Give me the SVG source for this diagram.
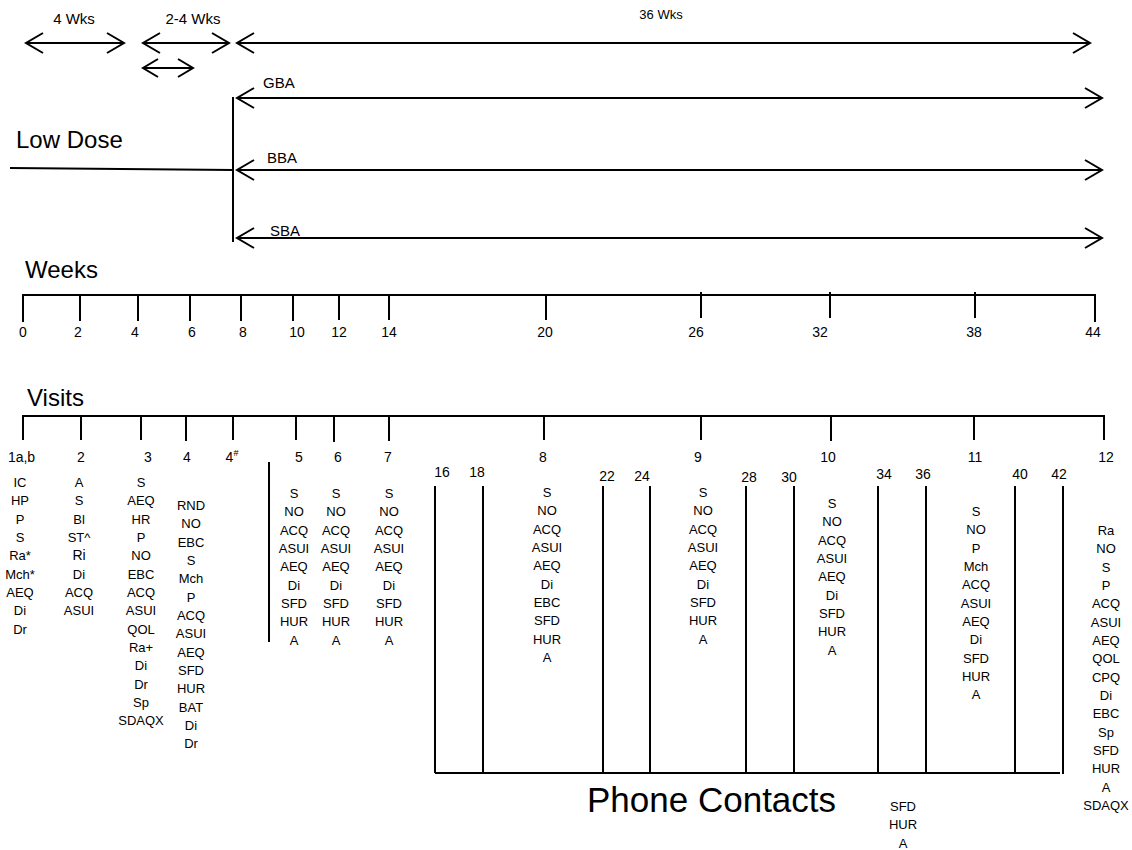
<svg xmlns="http://www.w3.org/2000/svg" width="1132" height="850" viewBox="0 0 1132 850">
<style>
text{font-family:"Liberation Sans",Arial,sans-serif;fill:#000}
.ln{stroke:#000;stroke-width:2;fill:none}
.ar{stroke:#000;stroke-width:2;fill:none;marker-start:url(#ah);marker-end:url(#ah)}
.ars{stroke:#000;stroke-width:2;fill:none;marker-start:url(#ahs);marker-end:url(#ahs)}
.big{font-size:24px}
.mid{font-size:15px}
.num{font-size:14px}
.col{font-size:13px;text-anchor:middle}
.c{text-anchor:middle}
</style>
<defs>
<marker id="ah" markerUnits="userSpaceOnUse" markerWidth="24" markerHeight="24" viewBox="-20 -12 24 24" refX="0" refY="0" orient="auto-start-reverse" overflow="visible">
<path d="M-17,-10 L0,0 L-17,10" fill="none" stroke="#000" stroke-width="2"/>
</marker>
<marker id="ahs" markerUnits="userSpaceOnUse" markerWidth="24" markerHeight="24" viewBox="-20 -12 24 24" refX="0" refY="0" orient="auto-start-reverse" overflow="visible">
<path d="M-15,-9 L0,0 L-15,9" fill="none" stroke="#000" stroke-width="2"/>
</marker>
</defs>

<g id="durations">
<text class="mid c" x="74" y="24">4 Wks</text>
<text class="mid c" x="193" y="24">2-4 Wks</text>
<text class="c" x="661" y="19" font-size="13">36 Wks</text>
</g>

<g id="connectors">
<line class="ar" x1="26" y1="43" x2="124" y2="43"/>
<line class="ar" x1="143" y1="43" x2="229" y2="43"/>
<line class="ars" x1="143" y1="68" x2="193" y2="68"/>
<line class="ar" x1="237" y1="43" x2="1090" y2="43"/>
<line class="ar" x1="237" y1="98" x2="1102" y2="98"/>
<line class="ar" x1="237" y1="170" x2="1102" y2="170"/>
<line class="ar" x1="237" y1="238" x2="1102" y2="238"/>
<line class="ln" x1="233" y1="97" x2="233" y2="242"/>
<line class="ln" x1="10" y1="168" x2="233" y2="170"/>
</g>

<g id="arms">
<text class="big" x="16" y="148">Low Dose</text>
<text class="mid" x="263" y="88">GBA</text>
<text class="mid" x="267" y="163">BBA</text>
<text class="mid" x="270" y="236">SBA</text>
</g>

<g id="weeks-axis">
<text class="big" x="25" y="278">Weeks</text>
<path class="ln" d="M22,295 L1096,295"/>
<path class="ln" d="M23,295V322 M80,295V321 M138,295V321 M190,295V321 M241,295V321 M293,295V321 M339,295V320 M389,295V320 M546,295V320 M701,292V318 M830,292V318 M975,292V318 M1095,295V322"/>
<g class="num c">
<text x="23" y="337">0</text>
<text x="78" y="337">2</text>
<text x="135" y="337">4</text>
<text x="192" y="337">6</text>
<text x="243" y="337">8</text>
<text x="297" y="337">10</text>
<text x="339" y="337">12</text>
<text x="389" y="337">14</text>
<text x="545" y="337">20</text>
<text x="696" y="337">26</text>
<text x="820" y="337">32</text>
<text x="974" y="337">38</text>
<text x="1093" y="337">44</text>
</g>
</g>

<g id="visits-axis">
<text class="big" x="27" y="406">Visits</text>
<path class="ln" d="M22,416 L1105,416"/>
<path class="ln" d="M23,416V440 M81,416V440 M141,416V440 M186,416V441 M233,416V440 M296,416V440 M334,416V442 M389,416V441 M544,416V440 M701,416V440 M831,416V441 M974,416V440 M1104,416V440"/>
<g class="num c">
<text x="21.5" y="462">1a,b</text>
<text x="81" y="462">2</text>
<text x="148" y="462">3</text>
<text x="187" y="462">4</text>
<text x="232" y="462">4<tspan font-size="9" dy="-6">#</tspan></text>
<text x="299" y="462">5</text>
<text x="338" y="462">6</text>
<text x="388" y="462">7</text>
<text x="543" y="462">8</text>
<text x="698" y="462">9</text>
<text x="828" y="462">10</text>
<text x="975" y="462">11</text>
<text x="1106" y="462">12</text>
</g>
<line class="ln" x1="269" y1="462" x2="269" y2="642"/>
</g>

<g id="visit-1">
<text class="col" y="487"><tspan x="20">IC</tspan><tspan x="20" dy="18.33">HP</tspan><tspan x="20" dy="18.33">P</tspan><tspan x="20" dy="18.33">S</tspan><tspan x="20" dy="18.33">Ra*</tspan><tspan x="20" dy="18.33">Mch*</tspan><tspan x="20" dy="18.33">AEQ</tspan><tspan x="20" dy="18.33">Di</tspan><tspan x="20" dy="18.33">Dr</tspan></text>
</g>
<g id="visit-2">
<text class="col" y="487"><tspan x="79">A</tspan><tspan x="79" dy="18.33">S</tspan><tspan x="79" dy="18.33">Bl</tspan><tspan x="79" dy="18.33">ST^</tspan><tspan x="79" dy="18.33" font-size="14">Ri</tspan><tspan x="79" dy="18.33">Di</tspan><tspan x="79" dy="18.33">ACQ</tspan><tspan x="79" dy="18.33">ASUI</tspan></text>
</g>
<g id="visit-3">
<text class="col" y="487"><tspan x="141">S</tspan><tspan x="141" dy="18.33">AEQ</tspan><tspan x="141" dy="18.33">HR</tspan><tspan x="141" dy="18.33">P</tspan><tspan x="141" dy="18.33">NO</tspan><tspan x="141" dy="18.33">EBC</tspan><tspan x="141" dy="18.33">ACQ</tspan><tspan x="141" dy="18.33">ASUI</tspan><tspan x="141" dy="18.33">QOL</tspan><tspan x="141" dy="18.33">Ra+</tspan><tspan x="141" dy="18.33">Di</tspan><tspan x="141" dy="18.33">Dr</tspan><tspan x="141" dy="18.33">Sp</tspan><tspan x="141" dy="18.33">SDAQX</tspan></text>
</g>
<g id="visit-4">
<text class="col" y="510"><tspan x="191">RND</tspan><tspan x="191" dy="18.33">NO</tspan><tspan x="191" dy="18.33">EBC</tspan><tspan x="191" dy="18.33">S</tspan><tspan x="191" dy="18.33">Mch</tspan><tspan x="191" dy="18.33">P</tspan><tspan x="191" dy="18.33">ACQ</tspan><tspan x="191" dy="18.33">ASUI</tspan><tspan x="191" dy="18.33">AEQ</tspan><tspan x="191" dy="18.33">SFD</tspan><tspan x="191" dy="18.33">HUR</tspan><tspan x="191" dy="18.33">BAT</tspan><tspan x="191" dy="18.33">Di</tspan><tspan x="191" dy="18.33">Dr</tspan></text>
</g>
<g id="visit-5">
<text class="col" y="498"><tspan x="294">S</tspan><tspan x="294" dy="18.33">NO</tspan><tspan x="294" dy="18.33">ACQ</tspan><tspan x="294" dy="18.33">ASUI</tspan><tspan x="294" dy="18.33">AEQ</tspan><tspan x="294" dy="18.33">Di</tspan><tspan x="294" dy="18.33">SFD</tspan><tspan x="294" dy="18.33">HUR</tspan><tspan x="294" dy="18.33">A</tspan></text>
</g>
<g id="visit-6">
<text class="col" y="498"><tspan x="336">S</tspan><tspan x="336" dy="18.33">NO</tspan><tspan x="336" dy="18.33">ACQ</tspan><tspan x="336" dy="18.33">ASUI</tspan><tspan x="336" dy="18.33">AEQ</tspan><tspan x="336" dy="18.33">Di</tspan><tspan x="336" dy="18.33">SFD</tspan><tspan x="336" dy="18.33">HUR</tspan><tspan x="336" dy="18.33">A</tspan></text>
</g>
<g id="visit-7">
<text class="col" y="498"><tspan x="389">S</tspan><tspan x="389" dy="18.33">NO</tspan><tspan x="389" dy="18.33">ACQ</tspan><tspan x="389" dy="18.33">ASUI</tspan><tspan x="389" dy="18.33">AEQ</tspan><tspan x="389" dy="18.33">Di</tspan><tspan x="389" dy="18.33">SFD</tspan><tspan x="389" dy="18.33">HUR</tspan><tspan x="389" dy="18.33">A</tspan></text>
</g>
<g id="visit-8">
<text class="col" y="497"><tspan x="547">S</tspan><tspan x="547" dy="18.33">NO</tspan><tspan x="547" dy="18.33">ACQ</tspan><tspan x="547" dy="18.33">ASUI</tspan><tspan x="547" dy="18.33">AEQ</tspan><tspan x="547" dy="18.33">Di</tspan><tspan x="547" dy="18.33">EBC</tspan><tspan x="547" dy="18.33">SFD</tspan><tspan x="547" dy="18.33">HUR</tspan><tspan x="547" dy="18.33">A</tspan></text>
</g>
<g id="visit-9">
<text class="col" y="497"><tspan x="703">S</tspan><tspan x="703" dy="18.33">NO</tspan><tspan x="703" dy="18.33">ACQ</tspan><tspan x="703" dy="18.33">ASUI</tspan><tspan x="703" dy="18.33">AEQ</tspan><tspan x="703" dy="18.33">Di</tspan><tspan x="703" dy="18.33">SFD</tspan><tspan x="703" dy="18.33">HUR</tspan><tspan x="703" dy="18.33">A</tspan></text>
</g>
<g id="visit-10">
<text class="col" y="508"><tspan x="832">S</tspan><tspan x="832" dy="18.33">NO</tspan><tspan x="832" dy="18.33">ACQ</tspan><tspan x="832" dy="18.33">ASUI</tspan><tspan x="832" dy="18.33">AEQ</tspan><tspan x="832" dy="18.33">Di</tspan><tspan x="832" dy="18.33">SFD</tspan><tspan x="832" dy="18.33">HUR</tspan><tspan x="832" dy="18.33">A</tspan></text>
</g>
<g id="visit-11">
<text class="col" y="516"><tspan x="976">S</tspan><tspan x="976" dy="18.33">NO</tspan><tspan x="976" dy="18.33">P</tspan><tspan x="976" dy="18.33">Mch</tspan><tspan x="976" dy="18.33">ACQ</tspan><tspan x="976" dy="18.33">ASUI</tspan><tspan x="976" dy="18.33">AEQ</tspan><tspan x="976" dy="18.33">Di</tspan><tspan x="976" dy="18.33">SFD</tspan><tspan x="976" dy="18.33">HUR</tspan><tspan x="976" dy="18.33">A</tspan></text>
</g>
<g id="visit-12">
<text class="col" y="535"><tspan x="1106">Ra</tspan><tspan x="1106" dy="18.33">NO</tspan><tspan x="1106" dy="18.33">S</tspan><tspan x="1106" dy="18.33">P</tspan><tspan x="1106" dy="18.33">ACQ</tspan><tspan x="1106" dy="18.33">ASUI</tspan><tspan x="1106" dy="18.33">AEQ</tspan><tspan x="1106" dy="18.33">QOL</tspan><tspan x="1106" dy="18.33">CPQ</tspan><tspan x="1106" dy="18.33">Di</tspan><tspan x="1106" dy="18.33">EBC</tspan><tspan x="1106" dy="18.33">Sp</tspan><tspan x="1106" dy="18.33">SFD</tspan><tspan x="1106" dy="18.33">HUR</tspan><tspan x="1106" dy="18.33">A</tspan><tspan x="1106" dy="18.33">SDAQX</tspan></text>
</g>

<g id="phone-contacts">
<path class="ln" d="M435,486V773 M483,486V773 M603,486V773 M650,486V773 M746,486V773 M794,486V773 M878,486V773 M926,486V773 M1015,486V773 M1063,486V774 M435,773H1060"/>
<g class="num c">
<text x="442" y="477">16</text>
<text x="477" y="477">18</text>
<text x="607" y="481">22</text>
<text x="642" y="481">24</text>
<text x="749" y="482">28</text>
<text x="789" y="482">30</text>
<text x="884" y="479">34</text>
<text x="923" y="479">36</text>
<text x="1020" y="479">40</text>
<text x="1059" y="479">42</text>
</g>
<text x="587" y="812" font-size="35">Phone Contacts</text>
<text class="col" y="811"><tspan x="903">SFD</tspan><tspan x="903" dy="18.33">HUR</tspan><tspan x="903" dy="18.33">A</tspan></text>
</g>
</svg>
